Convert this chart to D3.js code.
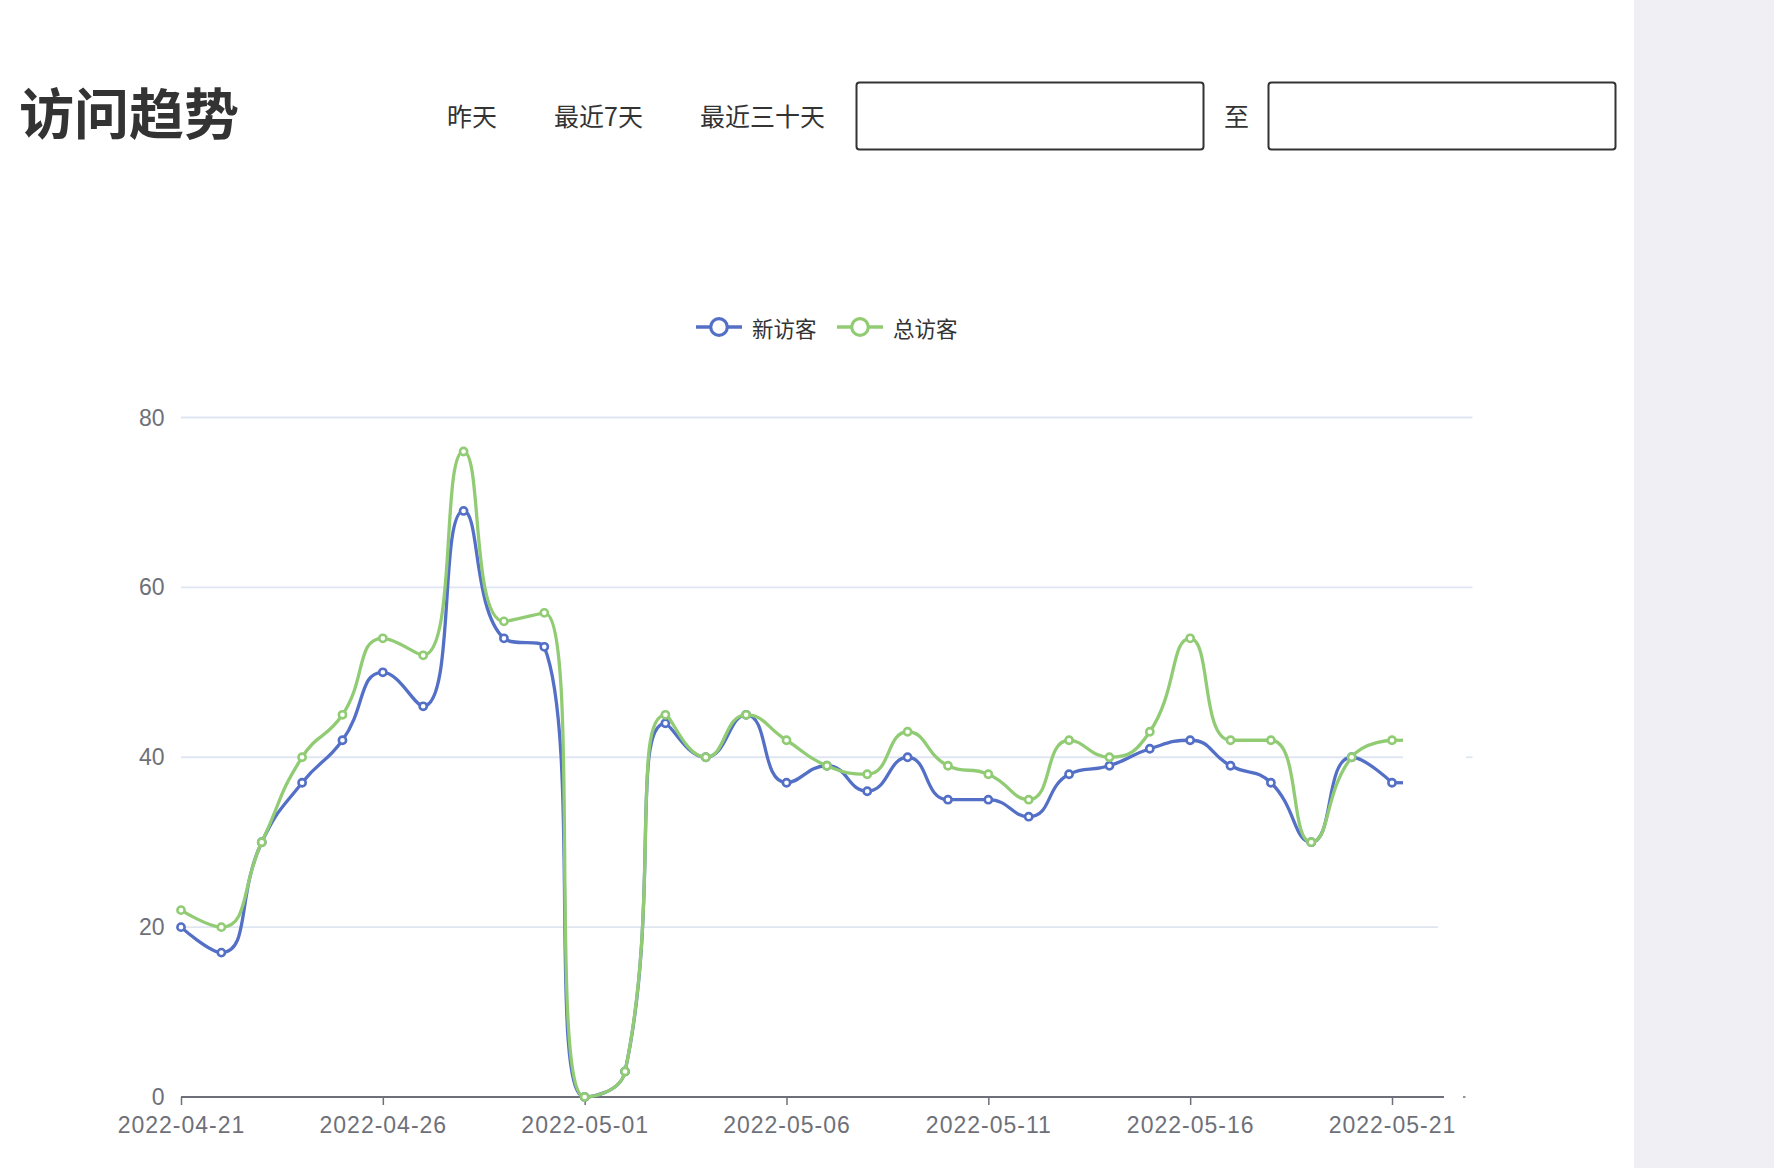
<!DOCTYPE html>
<html>
<head>
<meta charset="utf-8">
<script src="https://cdn.jsdelivr.net/npm/d3@7"></script>
<style>
  html, body { margin: 0; padding: 0; background: #fff; }
  svg { display: block; }
</style>
</head>
<body>
<svg id="chart" width="1774" height="1168"></svg>
<script>
// ---------------- data ----------------
const categories = [
  '2022-04-21','2022-04-22','2022-04-23','2022-04-24','2022-04-25','2022-04-26','2022-04-27',
  '2022-04-28','2022-04-29','2022-04-30','2022-05-01','2022-05-02','2022-05-03','2022-05-04',
  '2022-05-05','2022-05-06','2022-05-07','2022-05-08','2022-05-09','2022-05-10','2022-05-11',
  '2022-05-12','2022-05-13','2022-05-14','2022-05-15','2022-05-16','2022-05-17','2022-05-18',
  '2022-05-19','2022-05-20','2022-05-21'
];
const newVisitors = [20,17,30,37,42,50,46,69,54,53,0,3,44,40,45,37,39,36,40,35,35,33,38,39,41,42,39,37,30,40,37];
const totalVisitors = [22,20,30,40,45,54,52,76,56,57,0,3,45,40,45,42,39,38,43,39,38,35,42,40,43,54,42,42,30,40,42];
const seriesNames = ['新访客','总访客'];
const seriesColors = ['#5470c6','#91cc75'];
const xTickLabels = ['2022-04-21','2022-04-26','2022-05-01','2022-05-06','2022-05-11','2022-05-16','2022-05-21'];
const yTicks = [0,20,40,60,80];
const pageTitle = '访问趋势';
const quickRanges = ['昨天','最近7天','最近三十天'];
const toLabel = '至';

// ---------------- ECharts-like smooth curve ----------------
function EChartsCurve(context) { this._context = context; }
EChartsCurve.prototype = {
  areaStart() {}, areaEnd() {},
  lineStart() { this._x = []; this._y = []; },
  point(x, y) { this._x.push(+x); this._y.push(+y); },
  lineEnd() {
    const X = this._x, Y = this._y, n = X.length, c = this._context, smooth = 0.5;
    if (!n) return;
    c.moveTo(X[0], Y[0]);
    let cpx0 = X[0], cpy0 = Y[0];
    for (let i = 1; i < n; i++) {
      const x = X[i], y = Y[i], prevX = X[i-1], prevY = Y[i-1];
      let cpx1, cpy1, nextCpx0, nextCpy0;
      if (i === n - 1) { cpx1 = x; cpy1 = y; }
      else {
        const nextX = X[i+1], nextY = Y[i+1];
        let vx = nextX - prevX, vy = nextY - prevY;
        const lenPrev = Math.hypot(x - prevX, y - prevY);
        const lenNext = Math.hypot(nextX - x, nextY - y);
        const ratio = lenNext / (lenNext + lenPrev);
        nextCpx0 = x + vx * smooth * ratio;
        nextCpy0 = y + vy * smooth * ratio;
        nextCpx0 = Math.min(nextCpx0, Math.max(nextX, x));
        nextCpy0 = Math.min(nextCpy0, Math.max(nextY, y));
        nextCpx0 = Math.max(nextCpx0, Math.min(nextX, x));
        nextCpy0 = Math.max(nextCpy0, Math.min(nextY, y));
        vx = nextCpx0 - x; vy = nextCpy0 - y;
        cpx1 = x - vx * lenPrev / lenNext;
        cpy1 = y - vy * lenPrev / lenNext;
        cpx1 = Math.min(cpx1, Math.max(prevX, x));
        cpy1 = Math.min(cpy1, Math.max(prevY, y));
        cpx1 = Math.max(cpx1, Math.min(prevX, x));
        cpy1 = Math.max(cpy1, Math.min(prevY, y));
        vx = x - cpx1; vy = y - cpy1;
        nextCpx0 = x + vx * lenNext / lenPrev;
        nextCpy0 = y + vy * lenNext / lenPrev;
      }
      c.bezierCurveTo(cpx0, cpy0, cpx1, cpy1, x, y);
      cpx0 = nextCpx0; cpy0 = nextCpy0;
    }
  }
};
const curveECharts = ctx => new EChartsCurve(ctx);

// ---------------- layout ----------------
const svg = d3.select('#chart');
const CJK = '"Noto Sans CJK SC", "Noto Sans", sans-serif';
const LAT = '"Liberation Sans", Arial, sans-serif';

// right gray panel
svg.append('rect').attr('x', 1634).attr('y', 0).attr('width', 140).attr('height', 1168).attr('fill', '#f0f0f4');

// header
svg.append('text').attr('x', 19).attr('y', 110).attr('dominant-baseline', 'central')
  .attr('font-family', CJK).attr('font-weight', 700).attr('font-size', 55).attr('fill', '#333')
  .text(pageTitle);

const quickX = [447, 554, 700];
svg.selectAll('text.quick').data(quickRanges).join('text').attr('class', 'quick')
  .attr('x', (d, i) => quickX[i]).attr('y', 114.5).attr('dominant-baseline', 'central')
  .attr('font-family', CJK).attr('font-size', 25).attr('fill', '#333')
  .text(d => d);

const boxes = [856.5, 1268.5];
svg.selectAll('rect.inp').data(boxes).join('rect').attr('class', 'inp')
  .attr('x', d => d).attr('y', 82.5).attr('width', 347).attr('height', 67).attr('rx', 3)
  .attr('fill', '#fff').attr('stroke', '#333').attr('stroke-width', 2);
svg.append('text').attr('x', 1224).attr('y', 114.5).attr('dominant-baseline', 'central')
  .attr('font-family', CJK).attr('font-size', 25).attr('fill', '#333').text(toLabel);

// scales
const x = d3.scalePoint().domain(categories).range([181, 1392]).padding(0);
const y = d3.scaleLinear().domain([0, 80]).range([1097, 417.5]);

// grid lines (right ends as in the reference)
const gridEnd = {0: 1444, 20: 1438, 40: 1403, 60: 1472.5, 80: 1472.5};
const grid = svg.append('g');
grid.selectAll('line').data(yTicks.filter(v => v !== 0)).join('line')
  .attr('x1', 181).attr('x2', d => gridEnd[d])
  .attr('y1', d => y(d)).attr('y2', d => y(d))
  .attr('stroke', '#E0E6F1').attr('stroke-width', 1.8);
grid.append('line').attr('x1', 1466).attr('x2', 1472.5).attr('y1', y(40)).attr('y2', y(40))
  .attr('stroke', '#E0E6F1').attr('stroke-width', 1.8);

// y labels
svg.append('g').selectAll('text').data(yTicks).join('text')
  .attr('x', 164.5).attr('y', d => y(d)).attr('text-anchor', 'end').attr('dominant-baseline', 'central')
  .attr('font-family', LAT).attr('font-size', 23).attr('fill', '#6E7079')
  .text(d => d);

// x axis
const xAxis = d3.axisBottom(x).tickValues(xTickLabels).tickSize(8).tickPadding(12).tickSizeOuter(0);
const gx = svg.append('g').attr('transform', `translate(0,${y(0)})`).call(xAxis);
gx.select('.domain').attr('d', `M181,0H${gridEnd[0]}`).attr('stroke', '#6E7079').attr('stroke-width', 1.8);
gx.selectAll('.tick line').attr('stroke', '#6E7079').attr('stroke-width', 1.5);
gx.selectAll('.tick text').attr('font-family', LAT).attr('font-size', 23).attr('fill', '#6E7079')
  .attr('letter-spacing', '1px');
svg.append('line').attr('x1', 1463).attr('x2', 1465.5).attr('y1', y(0)).attr('y2', y(0))
  .attr('stroke', '#6E7079').attr('stroke-width', 1.5);

// series
const line = d3.line().x((d, i) => x(categories[i])).y(d => y(d)).curve(curveECharts);
const allSeries = [newVisitors, totalVisitors];
const lastCat = categories[categories.length - 1];
allSeries.forEach((vals, s) => {
  const g = svg.append('g');
  g.append('path').datum(vals).attr('d', line)
    .attr('fill', 'none').attr('stroke', seriesColors[s]).attr('stroke-width', 3.3)
    .attr('stroke-linejoin', 'round');
  // short flat tail past the last point, as in the reference render
  g.append('line').attr('x1', x(lastCat)).attr('x2', gridEnd[40])
    .attr('y1', y(vals[vals.length - 1])).attr('y2', y(vals[vals.length - 1]))
    .attr('stroke', seriesColors[s]).attr('stroke-width', 3.3);
  g.selectAll('circle').data(vals).join('circle')
    .attr('cx', (d, i) => x(categories[i])).attr('cy', d => y(d)).attr('r', 3.6)
    .attr('fill', '#fff').attr('stroke', seriesColors[s]).attr('stroke-width', 2.6);
});

// legend
const legendX = [696, 837];
const lg = svg.append('g');
seriesNames.forEach((name, i) => {
  const g = lg.append('g').attr('transform', `translate(${legendX[i]},327)`);
  g.append('line').attr('x1', 0).attr('x2', 46).attr('y1', 0).attr('y2', 0)
    .attr('stroke', seriesColors[i]).attr('stroke-width', 3.4);
  g.append('circle').attr('cx', 23).attr('cy', 0).attr('r', 8.3)
    .attr('fill', '#fff').attr('stroke', seriesColors[i]).attr('stroke-width', 3.2);
  g.append('text').attr('x', 56).attr('y', 0).attr('dominant-baseline', 'central')
    .attr('font-family', CJK).attr('font-size', 21.5).attr('fill', '#333').text(name);
});
</script>
</body>
</html>
